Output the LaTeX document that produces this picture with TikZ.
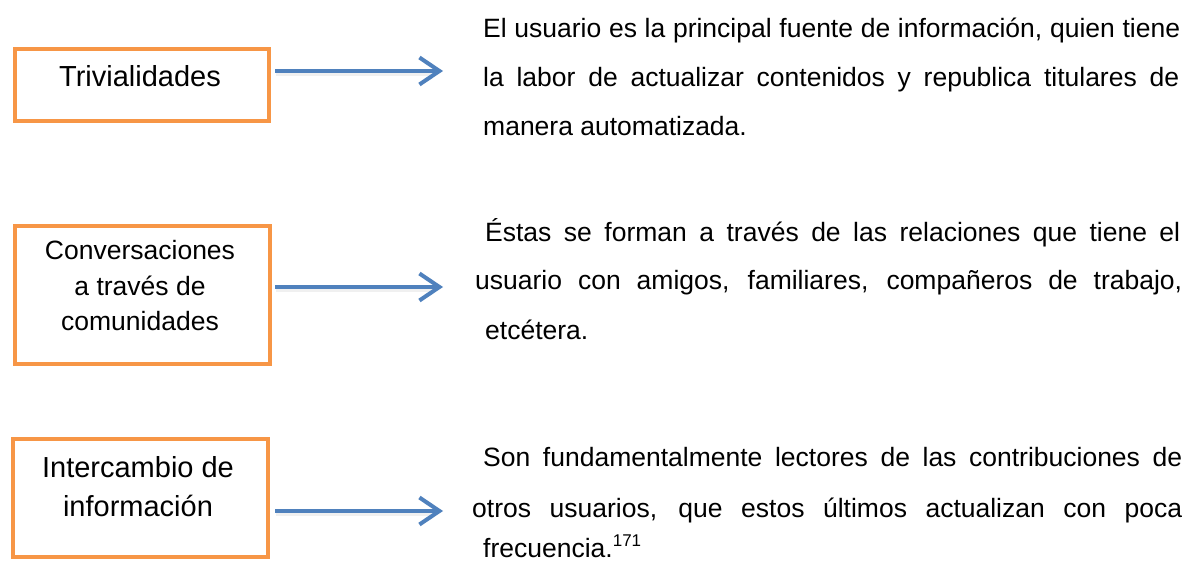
\documentclass[tikz,border=0pt]{standalone}
\usepackage{fontspec}
\setmainfont{Liberation Sans}
\usetikzlibrary{arrows.meta}
\definecolor{boxorange}{HTML}{F79646}
\definecolor{arrowblue}{HTML}{4F81BD}
\tikzset{
  x=1pt, y=-1pt,
  catbox/.style={draw=boxorange, line width=4pt},
  boxtext/.style={inner sep=0pt, anchor=base, font=\fontsize{29}{35}\selectfont},
  boxtextsmall/.style={inner sep=0pt, anchor=base, font=\fontsize{26.5}{32}\selectfont},
  paraline/.style={inner sep=0pt, anchor=base west, font=\fontsize{26.5}{32}\selectfont},
  conn/.style={draw=arrowblue, line width=4pt, -{Straight Barb[length=20pt,width=27pt,line width=4pt]}},
  connshadow/.style={draw=black, opacity=0.06, line width=5pt},
}
\begin{document}
\begin{tikzpicture}
\useasboundingbox (0,0) rectangle (1187,569);
\fill[white] (0,0) rectangle (1187,569);

% boxes
\node[catbox, minimum width=254pt, minimum height=72pt, anchor=north west] (b1) at (13,47) {};
\node[catbox, minimum width=255pt, minimum height=138pt, anchor=north west] (b2) at (13,224) {};
\node[catbox, minimum width=255pt, minimum height=118pt, anchor=north west] (b3) at (11,437) {};

% box texts
\node[boxtext] (b1t) at (140,87) {Trivialidades};
\node[boxtextsmall] (b2t1) at (140,260) {Conversaciones};
\node[boxtextsmall] (b2t2) at (140,296) {a través de};
\node[boxtextsmall] (b2t3) at (140,331) {comunidades};
\node[boxtext] (b3t1) at (138,477) {Intercambio de};
\node[boxtext] (b3t2) at (138,516) {información};

% paragraph 1
\node[paraline] (p1a) at (483,38) {\makebox[697pt][s]{El usuario es la principal fuente de información, quien tiene}};
\node[paraline] (p1b) at (483,87) {\makebox[696pt][s]{la labor de actualizar contenidos y republica titulares de}};
\node[paraline] (p1c) at (483,136) {manera automatizada.};

% paragraph 2
\node[paraline] (p2a) at (485,242) {\makebox[695pt][s]{Éstas se forman a través de las relaciones que tiene el}};
\node[paraline] (p2b) at (475,290) {\makebox[707pt][s]{usuario con amigos, familiares, compañeros de trabajo,}};
\node[paraline] (p2c) at (485,340) {etcétera.};

% paragraph 3
\node[paraline] (p3a) at (483,467) {\makebox[699pt][s]{Son fundamentalmente lectores de las contribuciones de}};
\node[paraline] (p3b) at (472,517) {\makebox[710pt][s]{otros usuarios, que estos últimos actualizan con poca}};
\node[paraline] (p3c) at (483,557) {frecuencia.\raisebox{11pt}{\fontsize{17}{20}\selectfont 171}};

% connector ends
\coordinate (s1) at (275,71);  \coordinate (t1) at (443,71);
\coordinate (s2) at (275,287); \coordinate (t2) at (443,287);
\coordinate (s3) at (275,511); \coordinate (t3) at (443,511);

% soft shadows
\foreach \i in {1,2,3} {
  \draw[connshadow] ([shift={(1,2.5)}]s\i) -- ([shift={(-8,2.5)}]t\i);
}

% connectors
\draw[conn] (s1) -- (t1);
\draw[conn] (s2) -- (t2);
\draw[conn] (s3) -- (t3);
\end{tikzpicture}
\end{document}
